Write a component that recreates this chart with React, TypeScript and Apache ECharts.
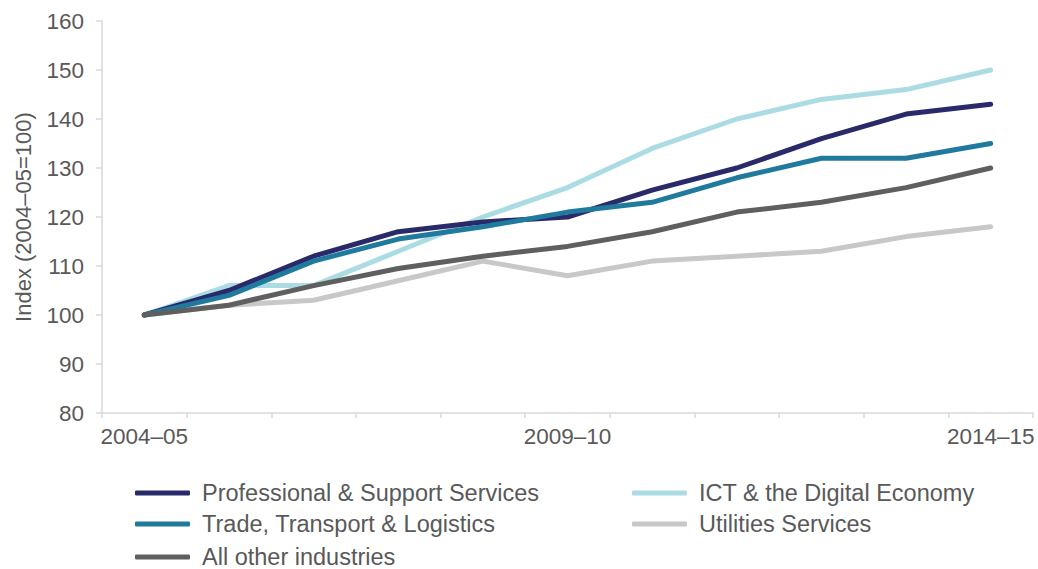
import React, { useEffect, useRef } from "react";
import * as echarts from "echarts";

const categories = ["2004–05", "2005–06", "2006–07", "2007–08", "2008–09", "2009–10", "2010–11", "2011–12", "2012–13", "2013–14", "2014–15"];
const professional = [100, 105, 112, 117, 119, 120, 125.5, 130, 136, 141, 143];
const ict = [100, 106, 106, 113, 120, 126, 134, 140, 144, 146, 150];
const trade = [100, 104, 111, 115.5, 118, 121, 123, 128, 132, 132, 135];
const utilities = [100, 102, 103, 107, 111, 108, 111, 112, 113, 116, 118];
const allOther = [100, 102, 106, 109.5, 112, 114, 117, 121, 123, 126, 130];

const leftLegend = ["Professional & Support Services", "Trade, Transport & Logistics", "All other industries"];
const rightLegend = ["ICT & the Digital Economy", "Utilities Services"];

const FONT = "'Liberation Sans', Arial, sans-serif";
const TEXT = "#595959";

export default function App() {
  const ref = useRef<HTMLDivElement>(null);
  useEffect(() => {
    if (!ref.current) return;
    const chart = echarts.init(ref.current, undefined, { renderer: "svg" });
    const mk = (name: string, data: number[], color: string) => ({
      name,
      type: "line",
      data,
      symbol: "none",
      lineStyle: { color, width: 5, cap: "round", join: "round" },
      itemStyle: { color },
    });
    const rowTops = [481, 512, 545];
    const legendItem = (name: string, left: number, top: number) => ({
      orient: "horizontal",
      top,
      left,
      padding: 0,
      itemWidth: 55,
      itemHeight: 5,
      icon: "roundRect",
      textStyle: { fontFamily: FONT, fontSize: 23.5, color: TEXT, lineHeight: 24, padding: [0, 0, 0, 7] },
      selectedMode: false,
      data: [name],
    });
    chart.setOption({
      animation: false,
      textStyle: { fontFamily: FONT },
      grid: { left: 102, right: 5, top: 21, bottom: 156, containLabel: false },
      legend: [
        ...leftLegend.map((n, i) => legendItem(n, 135, rowTops[i])),
        ...rightLegend.map((n, i) => legendItem(n, 632, rowTops[i])),
      ],
      xAxis: {
        type: "category",
        data: categories,
        boundaryGap: true,
        axisLine: { show: true, lineStyle: { color: "#d9d9d9", width: 1.5 } },
        axisTick: { show: true, interval: 0, length: 5, lineStyle: { color: "#d9d9d9", width: 1.5 } },
        axisLabel: { interval: 4, color: TEXT, fontSize: 22.5, fontFamily: FONT, margin: 12 },
        splitLine: { show: false },
      },
      yAxis: {
        type: "value",
        min: 80,
        max: 160,
        interval: 10,
        name: "Index (2004–05=100)",
        nameLocation: "middle",
        nameGap: 68,
        nameTextStyle: { color: TEXT, fontSize: 22, fontFamily: FONT },
        axisLine: { show: true, lineStyle: { color: "#d9d9d9", width: 1.5 } },
        axisTick: { show: true, length: 6, lineStyle: { color: "#d9d9d9", width: 1.5 } },
        axisLabel: { color: TEXT, fontSize: 22.5, fontFamily: FONT, margin: 18 },
        splitLine: { show: false },
      },
      series: [
        mk("Utilities Services", utilities, "#c8c8ca"),
        mk("ICT & the Digital Economy", ict, "#abdce3"),
        mk("Professional & Support Services", professional, "#2a2a6b"),
        mk("Trade, Transport & Logistics", trade, "#1f7a9d"),
        mk("All other industries", allOther, "#5f5f5f"),
      ],
    });
    return () => chart.dispose();
  }, []);
  return <div ref={ref} style={{ position: "fixed", left: 0, top: 0, width: 1038, height: 569, background: "#fff" }} />;
}
